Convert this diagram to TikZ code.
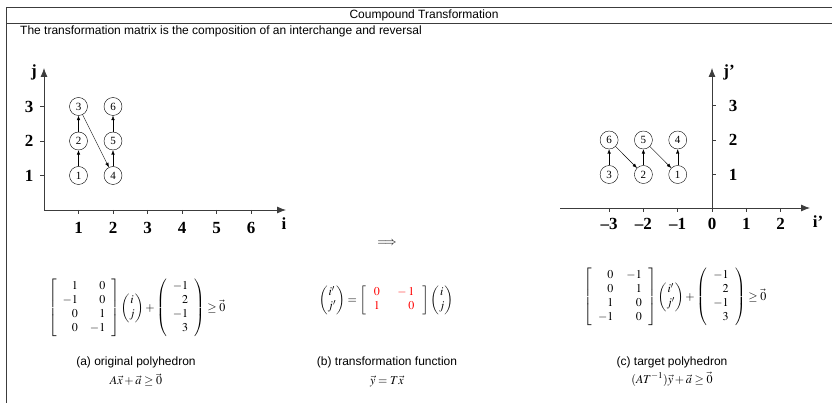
\documentclass[tikz,border=0pt]{standalone}
\usepackage{amsmath}
\usepackage{mathptmx}
\usepackage[no-math]{fontspec}
\setmainfont{Liberation Serif}
\setsansfont{Liberation Sans}
\usetikzlibrary{arrows.meta}
\definecolor{FrameGray}{RGB}{60, 60, 60}

\begin{document}
\begin{tikzpicture}[x=1pt, y=-1pt,
    every node/.style={inner sep=0pt},
    pt/.style={draw, circle, minimum size=18pt, inner sep=0pt, font=\fontsize{11}{11}\selectfont},
    axis/.style={thick, FrameGray, -{Latex[length=9pt, width=7pt]}},
    link/.style={-{Latex[length=4.5pt, width=3.5pt]}},
    num/.style={font=\fontsize{17}{17}\selectfont\bfseries},
    captext/.style={font=\sffamily\fontsize{12}{14}\selectfont},
    eq/.style={font=\fontsize{12}{14}\selectfont}]

    \useasboundingbox (0,0) rectangle (832,403);

    % Frame and title
    \draw[FrameGray] (832,7) -- (6,7) -- (6,403);
    \draw[FrameGray] (6,23) -- (832,23);
    \node[captext] (title) at (424,15) {Coumpound Transformation};
    \node[captext, anchor=west] (intro) at (20,31) {The transformation matrix is the composition of an interchange and reversal};

    % Original iteration space
    \coordinate (o1) at (44,210);
    \coordinate (xend1) at (286,210);
    \coordinate (yend1) at (44,68);
    \draw[axis] (o1) -- (xend1);
    \draw[axis] (o1) -- (yend1);
    \foreach \k in {1,...,6} {
        \draw[thick, FrameGray] ({44+34.5*\k},210) -- ++(0,4);
        \node[num] (xa\k) at ({44+34.5*\k},228) {\k};
    }
    \foreach \k in {1,2,3} {
        \draw[thick, FrameGray] (44,{210-34.5*\k}) -- ++(-4,0);
        \node[num] (ya\k) at (29,{210-34.5*\k}) {\k};
    }
    \node[num] (ilab) at (284,224) {i};
    \node[num] (jlab) at (34,72) {j};

    \foreach \n/\i/\j in {1/1/1, 2/1/2, 3/1/3, 4/2/1, 5/2/2, 6/2/3}
        \node[pt] (a\n) at ({44+34.5*\i},{210-34.5*\j}) {\n};
    \foreach \s/\t in {1/2, 2/3, 3/4, 4/5, 5/6}
        \draw[link] (a\s) -- (a\t);

    % Transformed iteration space
    \coordinate (o2) at (712,208);
    \coordinate (xbeg2) at (560,208);
    \coordinate (xend2) at (810,208);
    \coordinate (yend2) at (712,68);
    \draw[axis] (xbeg2) -- (xend2);
    \draw[axis] (o2) -- (yend2);
    \foreach \k/\t in {-3/--3, -2/--2, -1/--1, 0/0, 1/1, 2/2} {
        \draw[thick, FrameGray] ({712+34.3*\k},208) -- ++(0,4);
        \node[num] (xb\k) at ({712+34.3*\k},224) {\t};
    }
    \foreach \k in {1,2,3} {
        \draw[thick, FrameGray] (712,{209-34.5*\k}) -- ++(4,0);
        \node[num] (yb\k) at (733,{209-34.5*\k}) {\k};
    }
    \node[num] (iplab) at (818,222) {i'};
    \node[num] (jplab) at (729,72) {j'};

    \foreach \n/\i/\j in {1/-1/1, 2/-2/1, 3/-3/1, 4/-1/2, 5/-2/2, 6/-3/2}
        \node[pt] (b\n) at ({712+34.3*\i},{209-34.5*\j}) {\n};
    \foreach \s/\t in {3/6, 6/2, 2/5, 5/1, 1/4}
        \draw[link] (b\s) -- (b\t);

    \node[eq] (implies) at (387,243) {$\Longrightarrow$};

    % Formulas
    \node[eq] (origeq) at (137,308) {\setlength{\arraycolsep}{6pt}$\left[\begin{array}{rr} 1 & 0\\ -1 & 0\\ 0 & 1\\ 0 & -1\end{array}\right]
        \begin{pmatrix} i\\ j\end{pmatrix}+\left(\begin{array}{r} -1\\ 2\\ -1\\ 3\end{array}\right)\geq\vec{0}$};
    \node[captext] (origcap) at (136,362) {(a) original polyhedron};
    \node[eq] (origfrm) at (136,380) {$A\vec{x}+\vec{a}\geq\vec{0}$};

    \node[eq] (transeq) at (386,300) {\setlength{\arraycolsep}{8pt}$\begin{pmatrix} i'\\ j'\end{pmatrix}=
        \left[\begin{array}{rr} \color{red}0 & \color{red}{}-1\\ \color{red}1 & \color{red}0\end{array}\right]
        \begin{pmatrix} i\\ j\end{pmatrix}$};
    \node[captext] (transcap) at (387,362) {(b) transformation function};
    \node[eq] (transfrm) at (387,381) {$\vec{y}=T\vec{x}$};

    \node[eq] (targeq) at (675,297) {\setlength{\arraycolsep}{6.5pt}$\left[\begin{array}{rr} 0 & -1\\ 0 & 1\\ 1 & 0\\ -1 & 0\end{array}\right]
        \begin{pmatrix} i'\\ j'\end{pmatrix}+\left(\begin{array}{r} -1\\ 2\\ -1\\ 3\end{array}\right)\geq\vec{0}$};
    \node[captext] (targcap) at (672,362) {(c) target polyhedron};
    \node[eq] (targfrm) at (672,379) {$(AT^{-1})\vec{y}+\vec{a}\geq\vec{0}$};
\end{tikzpicture}
\end{document}
